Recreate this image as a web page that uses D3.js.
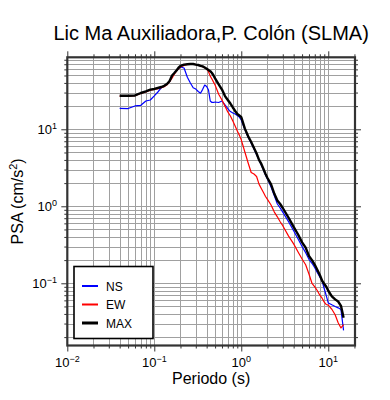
<!DOCTYPE html>
<html><head><meta charset="utf-8">
<script src="https://cdn.jsdelivr.net/npm/d3@7"></script>
<style>
html,body{margin:0;padding:0;background:#fff;}
svg{display:block;font-family:"Liberation Sans",Arial,Helvetica,sans-serif;}
</style></head>
<body><svg id="c" width="390" height="400"></svg>
<script>
const titleText = "Lic Ma Auxiliadora,P. Colón (SLMA)";
const xLabel = "Periodo (s)";
const seriesNames = ["NS", "EW", "MAX"];
const seriesColors = ["#0000ff", "#ff0000", "#000000"];

const periods = [0.04,0.05,0.06,0.07,0.08,0.09,0.10,0.11,0.12,0.13,0.14,0.15,0.16,0.17,0.18,0.19,0.20,
  0.22,0.24,0.26,0.28,0.30,0.32,0.34,0.36,0.38,0.40,0.42,0.44,0.46,0.48,0.50,
  0.55,0.60,0.65,0.70,0.75,0.80,0.85,0.90,0.95,1.0,
  1.1,1.2,1.3,1.4,1.5,1.6,1.7,1.8,1.9,2.0,
  2.2,2.4,2.6,2.8,3.0,
  3.5,4.0,4.5,5.0,5.5,6.0,6.5,7.0,7.5,8.0,8.5,9.0,9.5,10,
  11,12,13,14,15];

const psaNS = [18.7,18.6,20.1,20.5,23.3,24.0,27.1,30.5,34.4,36.5,38.2,41.8,49,53.8,58,61.5,64.5,
  62.5,47.5,40.0,34.7,33.3,31.0,29.4,33.0,37.6,36.0,32.4,23.3,22.3,22.3,22.6,
  22.3,23.3,20.7,18.6,17.0,16.3,15.8,15.1,14.4,13.2,
  9.9,7.9,6.64,5.55,4.7,4.0,3.44,2.96,2.55,2.27,
  1.78,1.37,1.07,0.95,0.84,
  0.63,0.48,0.375,0.30,0.25,0.205,0.182,0.159,0.137,0.121,0.107,0.085,0.0688,0.0556,
  0.0525,0.050,0.048,0.0455,0.0245];

const psaEW = [27.0,27.0,27.3,29.2,30.5,32.3,33.0,33.8,34.6,35.8,37.8,41.5,46,52,57,61.5,64.5,
  67.5,69.5,70.5,70.5,69.2,68.2,66.5,65,63.2,61,56,49,45,41,37.5,
  28.5,24,20,16.8,14.9,12.8,11.0,9.5,8.4,7.3,
  5.07,3.65,2.75,2.63,2.44,1.94,1.70,1.51,1.34,1.23,
  1.04,0.84,0.73,0.63,0.56,
  0.41,0.325,0.255,0.207,0.174,0.132,0.10,0.090,0.080,0.070,0.064,0.057,0.053,0.052,
  0.046,0.039,0.0308,0.0263,0.029];

const psaMAX = [27.3,27.3,27.5,29.6,31.0,32.7,33.4,34.4,35.4,36.7,38.8,42.4,50,53.8,58,63,66.4,
  69.2,70.0,70.5,70.5,69.2,68.4,66.8,65.5,63.5,61.2,58.9,56.9,53.8,50,45.8,
  38.4,32.8,27,24,21.6,19.2,17.3,15.8,15.1,14.4,
  10.2,8.1,6.84,5.7,4.85,4.0,3.55,3.05,2.63,2.33,
  1.93,1.45,1.19,1.07,0.95,
  0.71,0.54,0.43,0.34,0.29,0.226,0.20,0.174,0.149,0.128,0.108,0.098,0.090,0.080,
  0.0677,0.0618,0.058,0.051,0.0357];

const xMajorTicks = [0.01, 0.1, 1, 10];
const xMajorExp = ["−2", "−1", "0", "1"];
const yMajorTicks = [0.1, 1, 10];
const yMajorExp = ["−1", "0", "1"];

const svg = d3.select("#c");
const x = d3.scaleLog().domain([0.01, 20.3]).range([67.3, 355]);
const y = d3.scaleLog().domain([0.01556, 86.1]).range([345.5, 57.3]);
const [x0, x1] = x.range();
const [y0, y1] = y.range();

function logValues(scale) {
  const [a, b] = scale.domain();
  const out = [];
  for (let e = Math.floor(Math.log10(a)); e <= Math.ceil(Math.log10(b)); e++) {
    for (let k = 1; k <= 9; k++) {
      const v = k * Math.pow(10, e);
      if (v >= a * 0.9999 && v <= b * 1.0001) out.push(v);
    }
  }
  return out;
}
const xVals = logValues(x);
const yVals = logValues(y);

// grid
const grid = svg.append("g").attr("stroke", "#a0a0a0").attr("stroke-width", 1);
grid.selectAll("line.gx").data(xVals).join("line")
  .attr("x1", d => Math.round(x(d)) + 0.5).attr("x2", d => Math.round(x(d)) + 0.5)
  .attr("y1", y1).attr("y2", y0);
grid.selectAll("line.gy").data(yVals).join("line")
  .attr("y1", d => Math.round(y(d)) + 0.5).attr("y2", d => Math.round(y(d)) + 0.5)
  .attr("x1", x0).attr("x2", x1);

function styleAxis(g) {
  g.select(".domain").remove();
  g.selectAll(".tick line").attr("stroke", "#333").attr("stroke-width", 1);
  g.selectAll(".tick text").remove();
}
const xMinor = xVals.filter(v => !xMajorTicks.includes(v));
const yMinor = yVals.filter(v => !yMajorTicks.includes(v));
svg.append("g").attr("transform", `translate(0,${y0})`).call(d3.axisBottom(x).tickValues(xMinor).tickSize(3).tickFormat("")).call(styleAxis);
svg.append("g").attr("transform", `translate(0,${y0})`).call(d3.axisBottom(x).tickValues(xMajorTicks).tickSize(6).tickFormat("")).call(styleAxis);
svg.append("g").attr("transform", `translate(0,${y1})`).call(d3.axisTop(x).tickValues(xMinor).tickSize(3).tickFormat("")).call(styleAxis);
svg.append("g").attr("transform", `translate(0,${y1})`).call(d3.axisTop(x).tickValues(xMajorTicks).tickSize(6).tickFormat("")).call(styleAxis);
svg.append("g").attr("transform", `translate(${x0},0)`).call(d3.axisLeft(y).tickValues(yMinor).tickSize(3).tickFormat("")).call(styleAxis);
svg.append("g").attr("transform", `translate(${x0},0)`).call(d3.axisLeft(y).tickValues(yMajorTicks).tickSize(6).tickFormat("")).call(styleAxis);
svg.append("g").attr("transform", `translate(${x1},0)`).call(d3.axisRight(y).tickValues(yMinor).tickSize(3).tickFormat("")).call(styleAxis);
svg.append("g").attr("transform", `translate(${x1},0)`).call(d3.axisRight(y).tickValues(yMajorTicks).tickSize(6).tickFormat("")).call(styleAxis);

// series
const seriesData = [psaNS, psaEW, psaMAX];
const widths = [1.2, 1.2, 2.4];
const line = d3.line().x(d => x(d[0])).y(d => y(d[1]));
seriesData.forEach((vals, i) => {
  svg.append("path")
    .datum(periods.map((p, j) => [p, vals[j]]))
    .attr("fill", "none").attr("stroke", seriesColors[i])
    .attr("stroke-width", widths[i]).attr("stroke-linejoin", "round")
    .attr("d", line);
});

// frame
svg.append("rect").attr("x", x0).attr("y", y1).attr("width", x1 - x0).attr("height", y0 - y1)
  .attr("fill", "none").attr("stroke", "#333").attr("stroke-width", 2.2);

// tick labels
xMajorTicks.forEach((v, i) => {
  const t = svg.append("text").attr("x", x(v)).attr("y", 367).attr("text-anchor", "middle")
    .attr("font-size", 13).attr("fill", "#000");
  t.append("tspan").text("10");
  t.append("tspan").attr("dy", -5).attr("font-size", 9).text(xMajorExp[i]);
});
yMajorTicks.forEach((v, i) => {
  const t = svg.append("text").attr("x", 57).attr("y", y(v) + 4.5).attr("text-anchor", "end")
    .attr("font-size", 13).attr("fill", "#000");
  t.append("tspan").text("10");
  t.append("tspan").attr("dy", -5).attr("font-size", 9).text(yMajorExp[i]);
});

// titles
svg.append("text").attr("x", (x0 + x1) / 2).attr("y", 40).attr("text-anchor", "middle")
  .attr("font-size", 20).text(titleText);
svg.append("text").attr("x", (x0 + x1) / 2).attr("y", 384).attr("text-anchor", "middle")
  .attr("font-size", 16).text(xLabel);
const yl = svg.append("text").attr("transform", `translate(23,${(y0 + y1) / 2}) rotate(-90)`)
  .attr("text-anchor", "middle").attr("font-size", 16);
yl.append("tspan").text("PSA (cm/s");
yl.append("tspan").attr("dy", -6).attr("font-size", 11).text("2");
yl.append("tspan").attr("dy", 6).text(")");

// legend
const lg = svg.append("g");
lg.append("rect").attr("x", 74).attr("y", 266.5).attr("width", 79).attr("height", 72)
  .attr("fill", "#fff").attr("stroke", "#000").attr("stroke-width", 1.6);
const legY = [286, 304.5, 323];
const legW = [2, 2, 3];
seriesNames.forEach((n, i) => {
  lg.append("line").attr("x1", 82).attr("x2", 98).attr("y1", legY[i]).attr("y2", legY[i])
    .attr("stroke", seriesColors[i]).attr("stroke-width", legW[i]);
  lg.append("text").attr("x", 106).attr("y", legY[i] + 4.5).attr("font-size", 12).text(n);
});
</script></body></html>
